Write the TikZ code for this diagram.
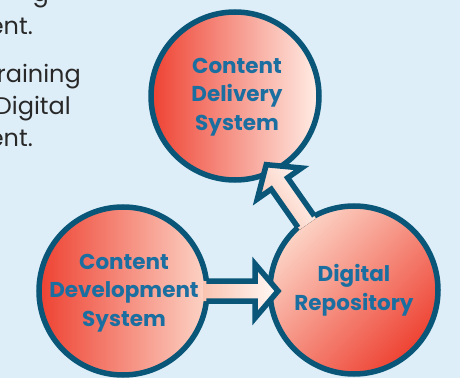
\documentclass[tikz,border=0pt]{standalone}
\usepackage{fontspec}
\newfontfamily\popfont{Poppins}
\usetikzlibrary{calc}
\definecolor{bg}{RGB}{222,238,248}
\definecolor{rim}{RGB}{10,86,120}
\definecolor{hot}{RGB}{238,66,50}
\definecolor{pale}{RGB}{255,238,230}
\definecolor{paleB}{RGB}{252,212,198}
\definecolor{lbl}{RGB}{27,111,160}
\definecolor{ink}{RGB}{40,40,40}
\definecolor{arrtail}{RGB}{250,196,178}
\definecolor{arrtip}{RGB}{255,249,246}
\begin{document}
\begin{tikzpicture}[x=1pt,y=1pt,
  disc/.style={circle, draw=rim, line width=5.5pt, minimum size=168pt, inner sep=0pt},
  lbltext/.style={text=lbl, font=\popfont\bfseries\fontsize{21.5}{28.5}\selectfont, align=center, inner sep=0pt},
  bodytext/.style={text=ink, font=\popfont\fontsize{24}{32}\selectfont, inner sep=0pt},
  rimline/.style={draw=rim, line width=5.5pt, line join=miter}
]
\clip (0,0) rectangle (460,378);
\fill[bg] (0,0) rectangle (460,378);

% left paragraph fragments
\node[bodytext, anchor=base east] (t0) at (49,376) {g};
\node[bodytext, anchor=base east] (t1) at (33,343) {ent.};
\node[bodytext, anchor=base east] (t2) at (81,295.5) {raining};
\node[bodytext, anchor=base east] (t3) at (71,263.5) {Digital};
\node[bodytext, anchor=base east] (t4) at (33,231.5) {ent.};

% circles
\node[disc, left color=hot, right color=pale] (cds) at (235,282) {};
\node[disc, left color=hot, right color=paleB] (cdev) at (123,87) {};
\node[disc, top color=paleB, bottom color=hot, shading angle=45] (repo) at (354,88) {};

% horizontal arrow: development -> repository
\fill[left color=arrtail, right color=arrtip]
  ($(cdev.center)+(80.5,10)$) -- ($(cdev.center)+(132,10)$) -- ($(cdev.center)+(132,27)$)
  -- ($(cdev.center)+(155,0)$) -- ($(cdev.center)+(132,-27)$) -- ($(cdev.center)+(132,-10)$)
  -- ($(cdev.center)+(80.5,-10)$) -- cycle;
\draw[rimline]
  ($(cdev.center)+(83.4,10)$) -- ($(cdev.center)+(132,10)$) -- ($(cdev.center)+(132,27)$)
  -- ($(cdev.center)+(155,0)$) -- ($(cdev.center)+(132,-27)$) -- ($(cdev.center)+(132,-10)$)
  -- ($(cdev.center)+(83.4,-10)$);

% diagonal arrow: repository -> delivery
\fill[left color=arrtail, right color=arrtip, shading angle=125]
  ($(repo.center)+(125:80.5)+(35:10)$) -- ($(repo.center)+(125:130)+(35:10)$)
  -- ($(repo.center)+(125:130)+(35:27)$) -- ($(repo.center)+(125:153)$)
  -- ($(repo.center)+(125:130)+(215:27)$) -- ($(repo.center)+(125:130)+(215:10)$)
  -- ($(repo.center)+(125:80.5)+(215:10)$) -- cycle;
\draw[rimline]
  ($(repo.center)+(125:83.4)+(35:10)$) -- ($(repo.center)+(125:130)+(35:10)$)
  -- ($(repo.center)+(125:130)+(35:27)$) -- ($(repo.center)+(125:153)$)
  -- ($(repo.center)+(125:130)+(215:27)$) -- ($(repo.center)+(125:130)+(215:10)$)
  -- ($(repo.center)+(125:83.4)+(215:10)$);

% labels
\node[lbltext] (cdsT) at (237,281) {Content\\Delivery\\System};
\node[lbltext] (cdevT) at (124,85) {Content\\Development\\System};
\node[lbltext] (repoT) at (354,88) {Digital\\Repository};
\end{tikzpicture}
\end{document}
